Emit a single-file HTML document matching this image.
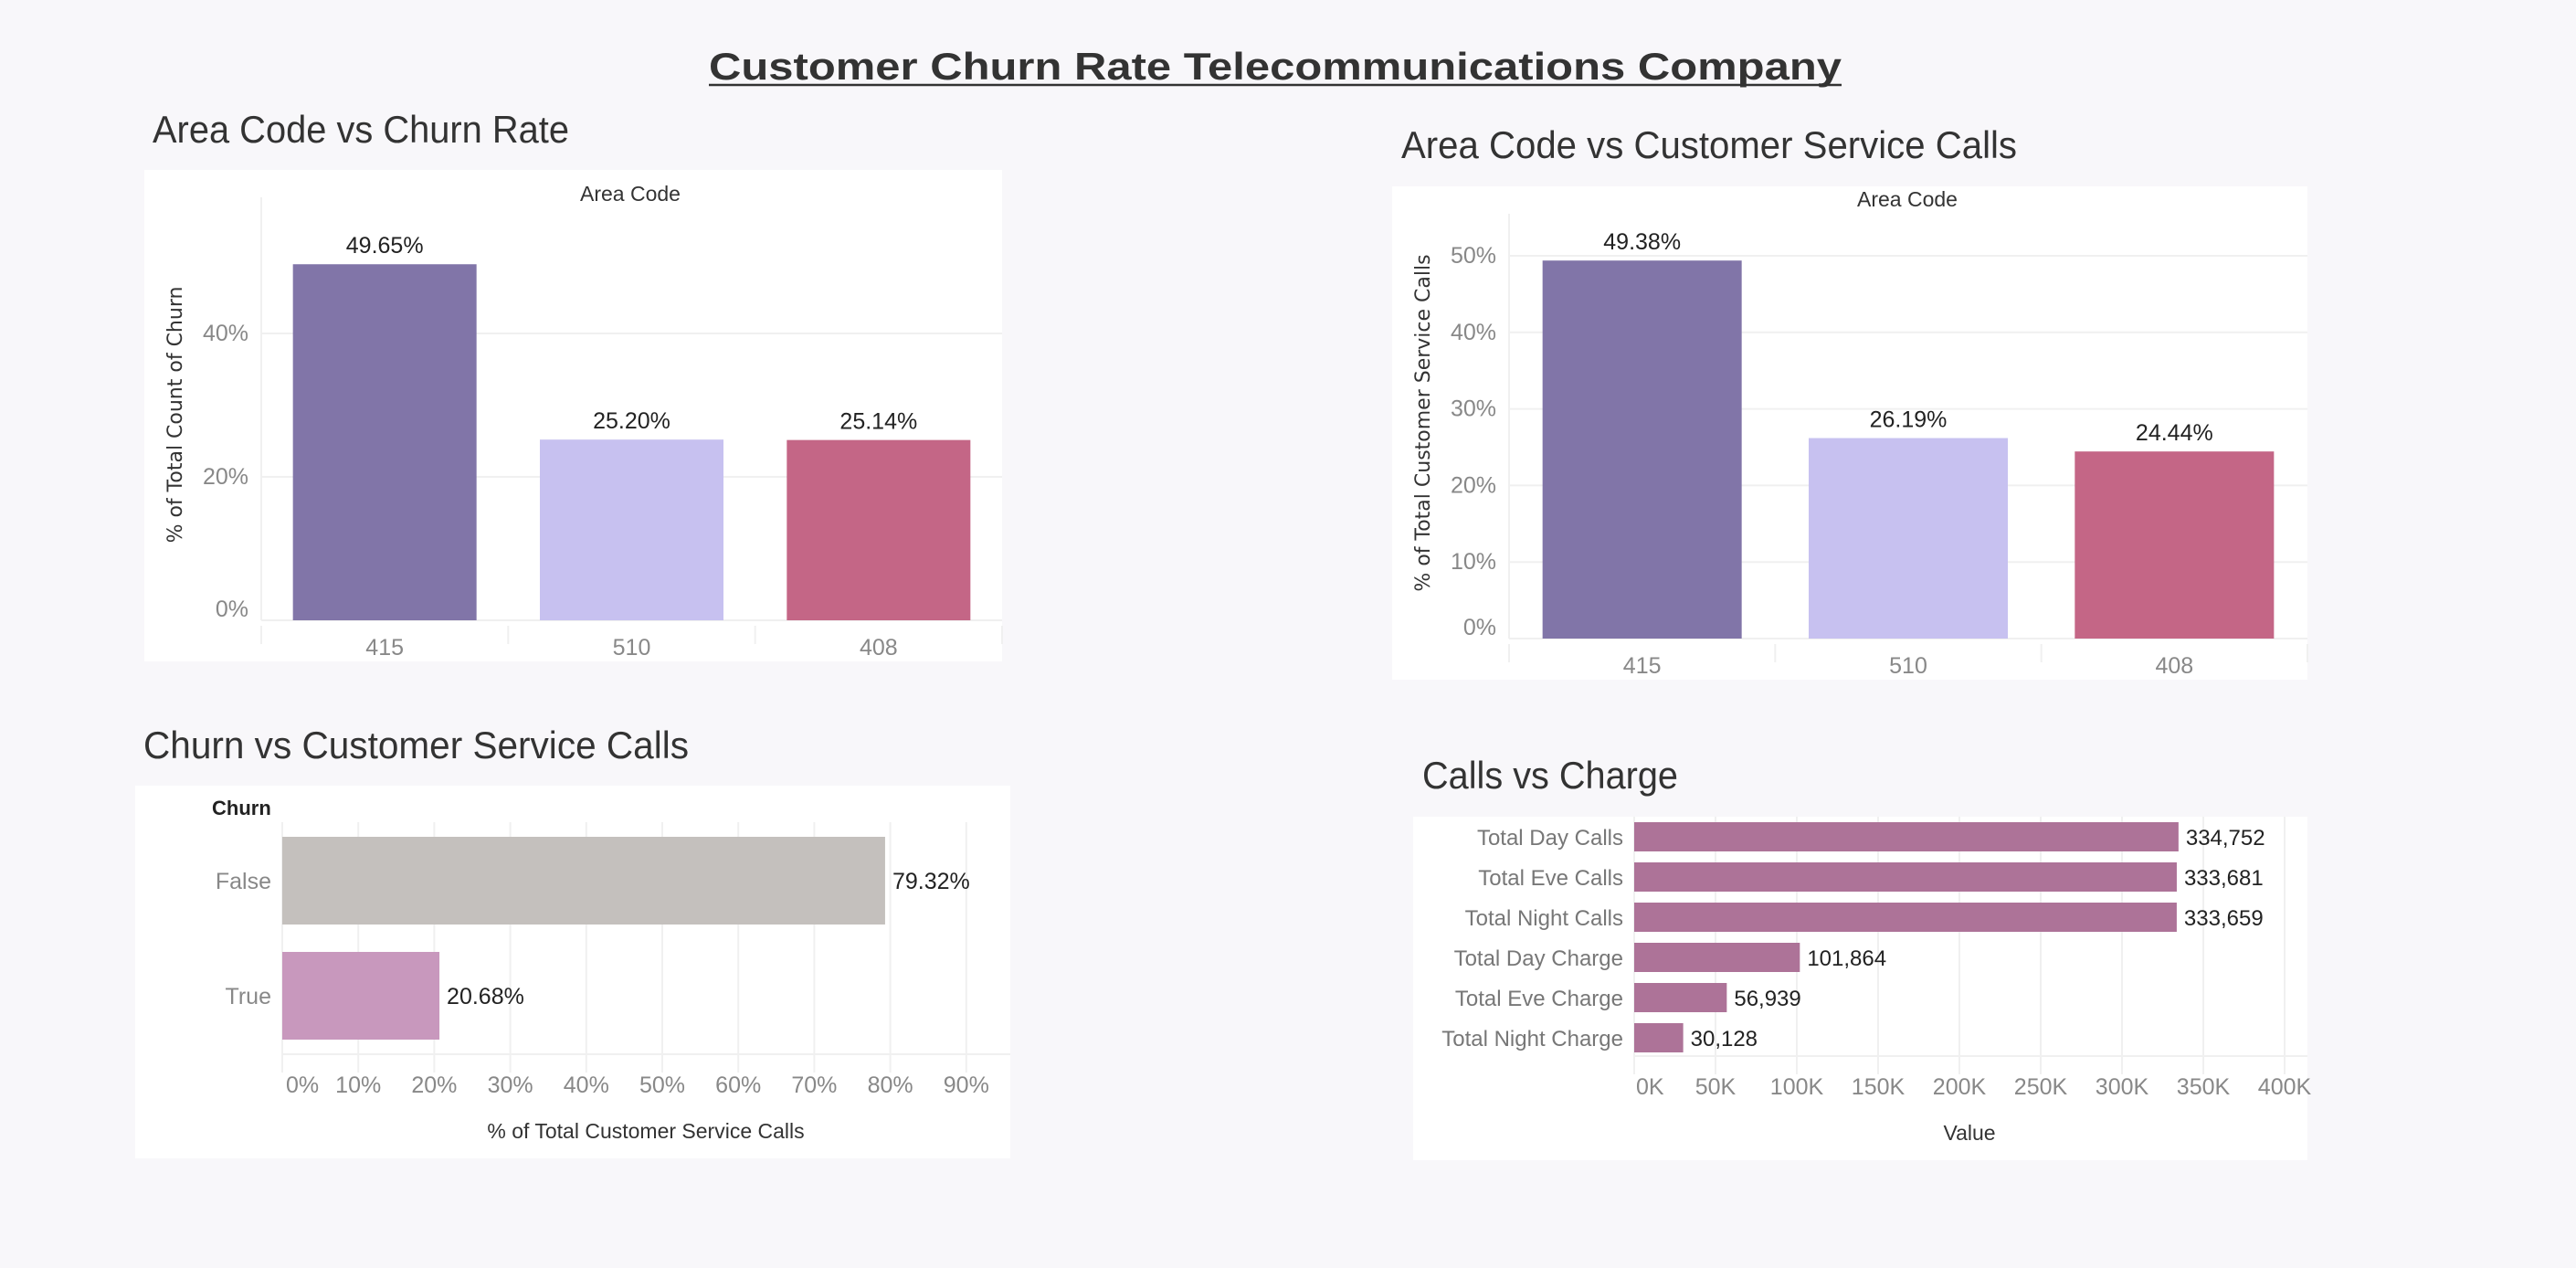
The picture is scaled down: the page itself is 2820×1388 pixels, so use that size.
<!DOCTYPE html>
<html><head><meta charset="utf-8"><style>
html,body{margin:0;padding:0;background:#f8f7fa;}
svg{display:block;font-family:"Liberation Sans",sans-serif;}
</style></head><body>
<svg id="root" width="2820" height="1388" viewBox="0 0 2820 1388" xmlns="http://www.w3.org/2000/svg">
<rect x="0" y="0" width="2820" height="1388" fill="#f8f7fa"/>
<text x="776" y="87" font-size="42" font-weight="bold" fill="#333" textLength="1240" lengthAdjust="spacingAndGlyphs">Customer Churn Rate Telecommunications Company</text>
<line x1="776" y1="93" x2="2016" y2="93" stroke="#333" stroke-width="2.5"/>
</svg>
<script>
const c1Cats = ['415','510','408'];
const c1Vals = [49.65, 25.20, 25.14];
const c1Labels = ['49.65%','25.20%','25.14%'];
const c1Ticks = [0, 20, 40];
const c2Cats = ['415','510','408'];
const c2Vals = [49.38, 26.19, 24.44];
const c2Labels = ['49.38%','26.19%','24.44%'];
const c2Ticks = [0, 10, 20, 30, 40, 50];
const c3Cats = ['False','True'];
const c3Vals = [79.32, 20.68];
const c3Labels = ['79.32%','20.68%'];
const c3Ticks = [0,10,20,30,40,50,60,70,80,90];
const c4Cats = ['Total Day Calls','Total Eve Calls','Total Night Calls','Total Day Charge','Total Eve Charge','Total Night Charge'];
const c4Vals = [334752, 333681, 333659, 101864, 56939, 30128];
const c4Labels = ['334,752','333,681','333,659','101,864','56,939','30,128'];
const c4Ticks = [0,50000,100000,150000,200000,250000,300000,350000,400000];
const c4TickLabels = ['0K','50K','100K','150K','200K','250K','300K','350K','400K'];

const svg = document.getElementById('root');
const NS = 'http://www.w3.org/2000/svg';
function mk(tag, attrs, text){
  const e = document.createElementNS(NS, tag);
  for (const k in attrs) e.setAttribute(k, attrs[k]);
  if (text !== undefined) e.textContent = text;
  svg.appendChild(e);
  return e;
}
function txt(x,y,s,size,fill,anchor,name,extra){
  const e = mk('text', Object.assign({x:x,y:y,'font-size':size,fill:fill,'text-anchor':anchor||'start'}, extra||{}), s);
  
  
  return e;
}
function card(x,y,w,h,name){
  const e = mk('rect',{x:x,y:y,width:w,height:h,fill:'#ffffff'});
  
  
}
function grid(x1,y1,x2,y2,name){
  const e = mk('line',{x1:x1,y1:y1,x2:x2,y2:y2,stroke:'#f0f0f0','stroke-width':2});
  
  
}

function vchart(o){
  card(o.cx,o.cy,o.cw,o.ch,o.id+'-card');
  txt(o.tx,o.ty,o.title,42,'#333','start',o.id+'-title',{textLength:o.tl,lengthAdjust:'spacingAndGlyphs'});
  txt(o.hx,o.hy,'Area Code',23,'#333','middle',o.id+'-header');
  const yS = v => o.base - (v - 0) * o.pxPer;
  grid(o.left, o.cy+30, o.left, o.base, o.id+'-y-axis-line');
  o.ticks.forEach(t=>{
    grid(o.left, yS(t), o.right, yS(t), o.id+'-gridline');
    txt(o.left-14, yS(t)+ (t===0?-4:8), t+'%', 25, '#888', 'end', o.id+'-y-tick');
  });
  const colW = (o.right - o.left) / o.cats.length;
  for (let i=0;i<=o.cats.length;i++) grid(o.left+i*colW, o.base+6, o.left+i*colW, o.base+26, o.id+'-column-divider');
  o.cats.forEach((c,i)=>{
    const x = o.left + i*colW + (colW - o.bw)/2;
    const b = mk('rect',{x:x,y:yS(o.vals[i]),width:o.bw,height:o.base-yS(o.vals[i]),fill:o.colors[i]});
    
    
    txt(x+o.bw/2, yS(o.vals[i])-12, o.labels[i], 25, '#222', 'middle', o.id+'-value-label');
    txt(x+o.bw/2, o.base+38, c, 25, '#888', 'middle', o.id+'-x-label');
  });
  txt(0,0,o.ytitle,22,'#333','middle',o.id+'-y-axis-title',{transform:'translate('+o.yx+','+o.yy+') rotate(-90)',style:'font-family:"DejaVu Sans",sans-serif'});
}
vchart({id:'area-churn',cx:158,cy:186,cw:939,ch:538,tx:167,ty:156,title:'Area Code vs Churn Rate',tl:456,
  hx:690,hy:220,left:286,right:1097,base:679,pxPer:157/20,bw:201,
  cats:c1Cats,vals:c1Vals,labels:c1Labels,ticks:c1Ticks,colors:['#8175a8','#c7c1f0','#c46686'],
  ytitle:'% of Total Count of Churn',yx:199,yy:454});
vchart({id:'area-calls',cx:1524,cy:204,cw:1002,ch:540,tx:1534,ty:173,title:'Area Code vs Customer Service Calls',tl:674,
  hx:2088,hy:226,left:1652,right:2526,base:699,pxPer:83.8/10,bw:218,
  cats:c2Cats,vals:c2Vals,labels:c2Labels,ticks:c2Ticks,colors:['#8175a8','#c7c1f0','#c46686'],
  ytitle:'% of Total Customer Service Calls',yx:1565,yy:463});

(function(){
  card(148,860,958,408,'churn-calls-card');
  txt(157,830,'Churn vs Customer Service Calls',42,'#333','start','churn-calls-title',{textLength:597,lengthAdjust:'spacingAndGlyphs'});
  txt(232,892,'Churn',22,'#222','start','churn-calls-header',{'font-weight':'bold'});
  const left=309, right=1106, top=900, axis=1154;
  const xS = v => left + v*8.32;
  c3Ticks.forEach(t=>{
    grid(xS(t), top, xS(t), axis+20, 'churn-calls-gridline');
    txt(t===0? xS(t)+4 : xS(t), 1196, t+'%', 25, '#888', t===0?'start':'middle', 'churn-calls-x-tick');
  });
  grid(left, axis, right, axis, 'churn-calls-x-axis-line');
  const colors=['#c4c0bd','#c898bd'];
  c3Cats.forEach((c,i)=>{
    const y = 916 + i*126;
    const b = mk('rect',{x:left,y:y,width:xS(c3Vals[i])-left,height:96,fill:colors[i]});
    
    
    txt(xS(c3Vals[i])+8, y+57, c3Labels[i], 25, '#222', 'start', 'churn-calls-value-label');
    txt(297, y+57, c, 25, '#888', 'end', 'churn-calls-y-label');
  });
  txt(707,1246,'% of Total Customer Service Calls',23,'#333','middle','churn-calls-x-axis-title');
})();

(function(){
  card(1547,894,979,376,'calls-charge-card');
  txt(1557,863,'Calls vs Charge',42,'#333','start','calls-charge-title',{textLength:280,lengthAdjust:'spacingAndGlyphs'});
  const left=1789, right=2526, axis=1156;
  const xS = v => left + v*(178/100000);
  c4Ticks.forEach((t,i)=>{
    grid(xS(t), 894, xS(t), axis+20, 'calls-charge-gridline');
    txt(i===0? xS(t)+2 : xS(t), 1198, c4TickLabels[i], 25, '#888', i===0?'start':'middle', 'calls-charge-x-tick');
  });
  grid(left, axis, right, axis, 'calls-charge-x-axis-line');
  c4Cats.forEach((c,i)=>{
    const y = 900 + i*44;
    const b = mk('rect',{x:left,y:y,width:xS(c4Vals[i])-left,height:32,fill:'#ad7398'});
    
    
    txt(xS(c4Vals[i])+8, y+25, c4Labels[i], 24, '#222', 'start', 'calls-charge-value-label');
    txt(1777, y+25, c, 24, '#777', 'end', 'calls-charge-y-label');
  });
  txt(2156,1248,'Value',23,'#333','middle','calls-charge-x-axis-title');
})();
</script>
</body></html>
